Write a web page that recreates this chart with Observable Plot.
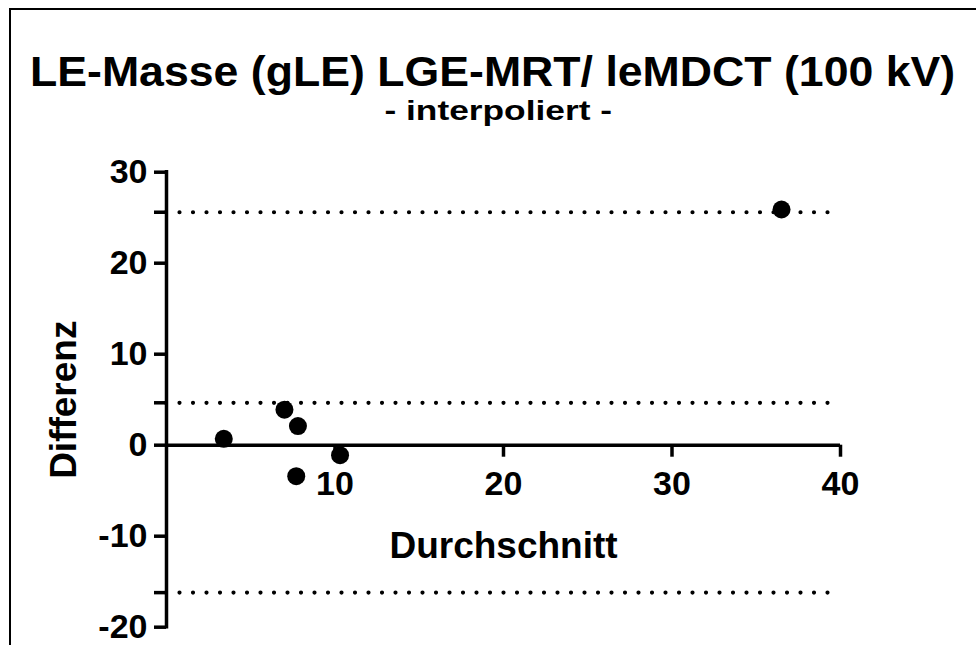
<!DOCTYPE html>
<html><head><meta charset="utf-8">
<script src="https://cdn.jsdelivr.net/npm/d3@7"></script>
<script src="https://cdn.jsdelivr.net/npm/@observablehq/plot@0.6"></script>
<style>
body{margin:0;background:#fff;}
#wrap{position:relative;width:976px;height:645px;overflow:hidden;background:#fff;font-family:"Liberation Sans",Arial,sans-serif;}
#header{position:relative;width:976px;height:140px;}
.t{position:absolute;white-space:nowrap;font-weight:bold;color:#000;transform-origin:center center;}
#frameTop{position:absolute;left:9px;top:8px;width:967px;height:2px;background:#000;}
#frameLeft{position:absolute;left:9px;top:8px;width:2px;height:637px;background:#000;}
#chart svg{display:block;}
</style></head><body>
<div id="wrap">
<div id="header"><div id="title" class="t">LE-Masse (gLE) LGE-MRT/ leMDCT (100 kV)</div><div id="subtitle" class="t">- interpoliert -</div></div>
<div id="chart"></div>
<div id="frameTop"></div><div id="frameLeft"></div>
</div>
<script>
// Data
const durchschnitt = [3.4, 7.0, 7.8, 7.7, 10.3, 36.5];
const differenz = [0.7, 3.9, 2.1, -3.4, -1.1, 25.9];
const grenzen = [25.6, 4.66, -16.2]; // upper limit, bias, lower limit
const yTicks = [-20, -10, 0, 10, 20, 30];
const xTicks = [10, 20, 30, 40];
const titel = "LE-Masse (gLE) LGE-MRT/ leMDCT (100 kV)";
const untertitel = "- interpoliert -";
const xLabel = "Durchschnitt";
const yLabel = "Differenz";

document.getElementById("title").textContent = titel;
document.getElementById("subtitle").textContent = untertitel;

function place(id, fontSize, lineHeight, top, centerX, targetWidth) {
  const el = document.getElementById(id);
  el.style.fontSize = fontSize + "px";
  el.style.lineHeight = lineHeight + "px";
  el.style.top = top + "px";
  const w = el.offsetWidth;
  el.style.left = (centerX - w / 2) + "px";
  if (targetWidth) el.style.transform = "scaleX(" + (targetWidth / w) + ")";
}
place("title", 43, 36, 52.6, 492, 925);
place("subtitle", 28, 22, 99.8, 498, 227);

const data = durchschnitt.map((m, i) => ({m, d: differenz[i]}));
const font = "Liberation Sans, Arial, sans-serif";
const plot = Plot.plot({
  width: 976,
  height: 505,
  marginLeft: 166,
  marginRight: 136,
  marginTop: 31.7,
  marginBottom: 18.3,
  x: {domain: [0, 40], axis: null, label: null},
  y: {domain: [-20, 30], axis: null, label: null},
  style: {fontFamily: font, color: "#000", background: "#fff"},
  marks: [
    Plot.ruleY(grenzen, {y: d => d, x1: () => 0, x2: () => 40, stroke: "#000", strokeWidth: 4.2, strokeDasharray: "0,13.5", strokeLinecap: "round"}),
    Plot.axisY(yTicks, {anchor: "left", label: null, tickSize: 12, tickPadding: 7, strokeWidth: 3.5, fontSize: 34, fontWeight: "bold", tickFormat: d => String(d)}),
    Plot.axisY(grenzen, {anchor: "left", label: null, tickSize: 12, strokeWidth: 3.5, tickFormat: () => ""}),
    Plot.ruleX([0], {x: d => d, y1: () => -20, y2: () => 30, stroke: "#000", strokeWidth: 3.5, strokeLinecap: "square"}),
    Plot.ruleY([0], {y: d => d, x1: () => 0, x2: () => 40, stroke: "#000", strokeWidth: 3.5}),
    Plot.ruleX(xTicks, {x: d => d, y1: () => 0, y2: () => -1.32, stroke: "#000", strokeWidth: 3.5}),
    Plot.text(xTicks, {x: d => d, y: () => 0, dy: 39, text: d => String(d), fontSize: 34, fontWeight: "bold", fill: "#000"}),
    Plot.text([xLabel], {frameAnchor: "middle", textAnchor: "middle", dy: 146, text: d => d, fontSize: 37, fontWeight: "bold", fill: "#000"}),
    Plot.text([yLabel], {frameAnchor: "left", textAnchor: "middle", dx: -102, rotate: -90, text: d => d, fontSize: 37, fontWeight: "bold", fill: "#000"}),
    Plot.dot(data, {x: "m", y: "d", r: 9, fill: "#000", stroke: "none"})
  ]
});
document.getElementById("chart").appendChild(plot);
</script>
</body></html>
